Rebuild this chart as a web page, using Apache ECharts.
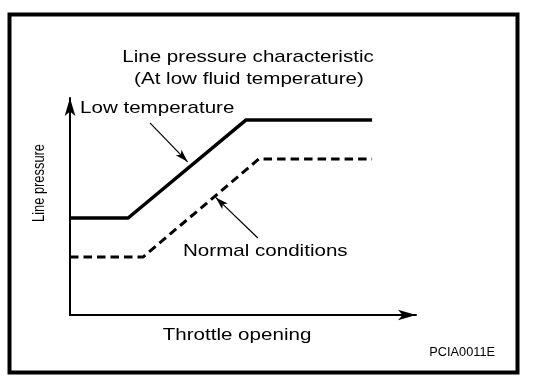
<!DOCTYPE html>
<html>
<head>
<meta charset="utf-8">
<script src="https://cdn.jsdelivr.net/npm/echarts@6/dist/echarts.min.js"></script>
<style>html,body{margin:0;padding:0;background:#fff}#c{width:560px;height:388px}</style>
</head>
<body>
<div id="c"></div>
<script>
// Throttle opening (x, 0-100) vs line pressure (y, 0-100), schematic values
const lowTempX = [0, 16.8, 50.9, 87.3];
const lowTempY = [44.7, 44.7, 89.9, 89.9];
const normalX = [0, 21.1, 54.6, 87.3];
const normalY = [26.7, 26.7, 71.9, 71.9];
// annotation arrows: [startX, startY, tipX, tipY] in data units
const lowArrow = [23.1, 88.5, 34.0, 70.6];
const normalArrow = [54.3, 35.5, 42.1, 54.2];
const titleLines = ['Line pressure characteristic', '(At low fluid temperature)'];
const xName = 'Throttle opening';
const yName = 'Line pressure';
const lowLabel = 'Low temperature';
const normalLabel = 'Normal conditions';
const figId = 'PCIA0011E';

const FONT = "'Liberation Sans', Arial, Helvetica, sans-serif";
const chart = echarts.init(document.getElementById('c'), null, {renderer: 'canvas'});

function txt(text, x, y, size, align, opts) {
  return Object.assign({
    type: 'text', x: x, y: y, scaleX: 1.21, silent: true,
    style: {text: text, font: size + 'px ' + FONT, fill: '#000',
            align: align, textAlign: align, verticalAlign: 'middle', textVerticalAlign: 'middle'}
  }, opts || {});
}

const axisCommon = {
  type: 'value', min: 0, max: 100,
  axisLabel: {show: false}, axisTick: {show: false}, splitLine: {show: false},
  axisLine: {show: true, symbol: ['none', 'arrow'], symbolSize: [8, 18],
             lineStyle: {color: '#000', width: 2}}
};

chart.setOption({
  animation: false,
  backgroundColor: '#fff',
  grid: {left: 70, right: 144, top: 98, bottom: 73},
  xAxis: Object.assign({}, axisCommon),
  yAxis: Object.assign({}, axisCommon),
  series: [
    {
      name: lowLabel, type: 'line', showSymbol: false, silent: true,
      data: lowTempX.map((x, i) => [x, lowTempY[i]]),
      lineStyle: {color: '#000', width: 3.5, type: 'solid'},
      markLine: {
        silent: true, symbol: ['none', 'arrow'], symbolSize: [6, 13],
        label: {show: false}, lineStyle: {color: '#000', width: 1.2, type: 'solid'},
        data: [[{coord: [lowArrow[0], lowArrow[1]]}, {coord: [lowArrow[2], lowArrow[3]]}]]
      }
    },
    {
      name: normalLabel, type: 'line', showSymbol: false, silent: true,
      data: normalX.map((x, i) => [x, normalY[i]]),
      lineStyle: {color: '#000', width: 3, type: [8.5, 5]},
      markLine: {
        silent: true, symbol: ['none', 'arrow'], symbolSize: [6, 13],
        label: {show: false}, lineStyle: {color: '#000', width: 1.2, type: 'solid'},
        data: [[{coord: [normalArrow[0], normalArrow[1]]}, {coord: [normalArrow[2], normalArrow[3]]}]]
      }
    }
  ],
  graphic: [
    {type: 'rect', silent: true, shape: {x: 9.5, y: 14.5, width: 508, height: 358},
     style: {fill: 'none', stroke: '#000', lineWidth: 4}},
    txt(titleLines[0], 248, 57, 17, 'center'),
    txt(titleLines[1], 249, 79, 17, 'center'),
    txt(lowLabel, 80, 108, 17, 'left'),
    txt(normalLabel, 183, 251, 17, 'left'),
    txt(xName, 237, 335, 17, 'center'),
    txt(yName, 39, 183, 16.5, 'center', {scaleX: 0.78, scaleY: 1, rotation: Math.PI / 2}),
    txt(figId, 495, 353, 12.5, 'right', {scaleX: 1.02})
  ]
});
</script>
</body>
</html>
